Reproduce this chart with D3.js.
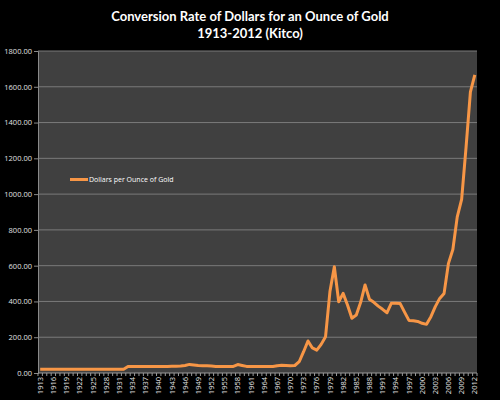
<!DOCTYPE html>
<html><head><meta charset="utf-8">
<script src="https://cdn.jsdelivr.net/npm/d3@7"></script>
<style>body{margin:0;background:#000}svg{display:block}</style>
</head><body><svg id="c" width="500" height="400"></svg>
<script>
const titleLines = ["Conversion Rate of Dollars for an Ounce of Gold", "1913-2012 (Kitco)"];
const seriesName = "Dollars per Ounce of Gold";
const years = [1913,1914,1915,1916,1917,1918,1919,1920,1921,1922,1923,1924,1925,1926,1927,1928,1929,1930,1931,1932,
1933,1934,1935,1936,1937,1938,1939,1940,1941,1942,1943,1944,1945,1946,1947,1948,1949,1950,1951,1952,
1953,1954,1955,1956,1957,1958,1959,1960,1961,1962,1963,1964,1965,1966,1967,1968,1969,1970,1971,1972,
1973,1974,1975,1976,1977,1978,1979,1980,1981,1982,1983,1984,1985,1986,1987,1988,1989,1990,1991,1992,
1993,1994,1995,1996,1997,1998,1999,2000,2001,2002,2003,2004,2005,2006,2007,2008,2009,2010,2011,2012];
const prices = [20.67,20.67,20.67,20.67,20.67,20.67,20.67,20.67,20.67,20.67,20.67,20.67,20.67,20.67,20.67,20.67,20.67,20.67,20.67,20.67,
36,36,36,36,36,36,36,36,37,37,38,38,39,42,48,45,42,41,41,39,
37,36,36,36,37,47,42,37,36,36,36,36,36,36,41,43,42,41,42,63,
119,179,140,128,160,203,455,594,398,445,380,306,324,395,492,412,395,374,356,337,
390,390,388,340,294,292,288,278,272,315,371,417,445,613,690,873,970,1260,1572,1666];
const yTicks = [0,200,400,600,800,1000,1200,1400,1600,1800];
const xLabelYears = years.filter((d,i)=>i%3===0);

const svg = d3.select("#c");
const L=38,R=477,T=51,B=373;
svg.append("rect").attr("width",500).attr("height",400).attr("fill","#000");
svg.append("rect").attr("x",L).attr("y",T).attr("width",R-L).attr("height",B-T).attr("fill","#404040");

const x = d3.scaleBand().domain(years).range([L,R]).padding(0);
const y = d3.scaleLinear().domain([0,1800]).range([B,T]);

// gridlines
svg.append("g").selectAll("line").data(yTicks.slice(1)).join("line")
  .attr("x1",L).attr("x2",R).attr("y1",d=>y(d)).attr("y2",d=>y(d))
  .attr("stroke","#7a7a7a").attr("stroke-width",1);

// y axis
const ya = svg.append("g").attr("transform",`translate(${L},0)`)
  .call(d3.axisLeft(y).tickValues(yTicks).tickFormat(d3.format(".2f")).tickSize(4).tickPadding(2));
ya.select(".domain").attr("stroke","#8a8a8a");
ya.selectAll(".tick line").attr("stroke","#8a8a8a");
ya.selectAll("text").attr("fill","#e0e0e0").style("font-family","'Open Sans', sans-serif").style("font-size","7.5px");

// x axis ticks at category boundaries
const xa = svg.append("g").attr("transform",`translate(0,${B})`);
xa.append("line").attr("x1",L).attr("x2",R).attr("stroke","#9a9a9a");
xa.selectAll("line.tk").data(years).join("line").attr("class","tk")
  .attr("x1",d=>x(d)).attr("x2",d=>x(d)).attr("y1",0).attr("y2",3).attr("stroke","#9a9a9a");
xa.append("line").attr("x1",R).attr("x2",R).attr("y1",0).attr("y2",3).attr("stroke","#9a9a9a");
const xl = svg.append("g").attr("transform",`translate(0,${B})`)
  .call(d3.axisBottom(x).tickValues(xLabelYears).tickSize(0).tickPadding(0));
xl.select(".domain").remove();
xl.selectAll("text").attr("transform","rotate(-90)").attr("x",-4).attr("y",0).attr("dy","0.35em")
  .style("text-anchor","end").attr("fill","#e0e0e0").style("font-family","'Open Sans', sans-serif").style("font-size","7.5px");

// line
const line = d3.line().x((d,i)=>x(years[i])+x.bandwidth()/2).y(d=>y(d)).curve(d3.curveLinear);
svg.append("path").datum(prices).attr("d",line).attr("fill","none")
  .attr("stroke","#f79646").attr("stroke-width",3).attr("stroke-linejoin","round");

// legend
svg.append("line").attr("x1",70).attr("x2",88).attr("y1",179.5).attr("y2",179.5).attr("stroke","#f79646").attr("stroke-width",3);
svg.append("text").attr("x",89).attr("y",179.5).attr("dy","0.35em").text(seriesName)
  .attr("fill","#ffffff").style("font-family","'Open Sans', sans-serif").style("font-size","7px");

// title
svg.append("g").selectAll("text").data(titleLines).join("text")
  .attr("x",250).attr("y",(d,i)=>21+i*16.5).attr("text-anchor","middle").text(d=>d)
  .attr("fill","#ffffff").style("font-family","Lato, sans-serif").style("font-weight","bold").style("font-size","13px");
</script></body></html>
